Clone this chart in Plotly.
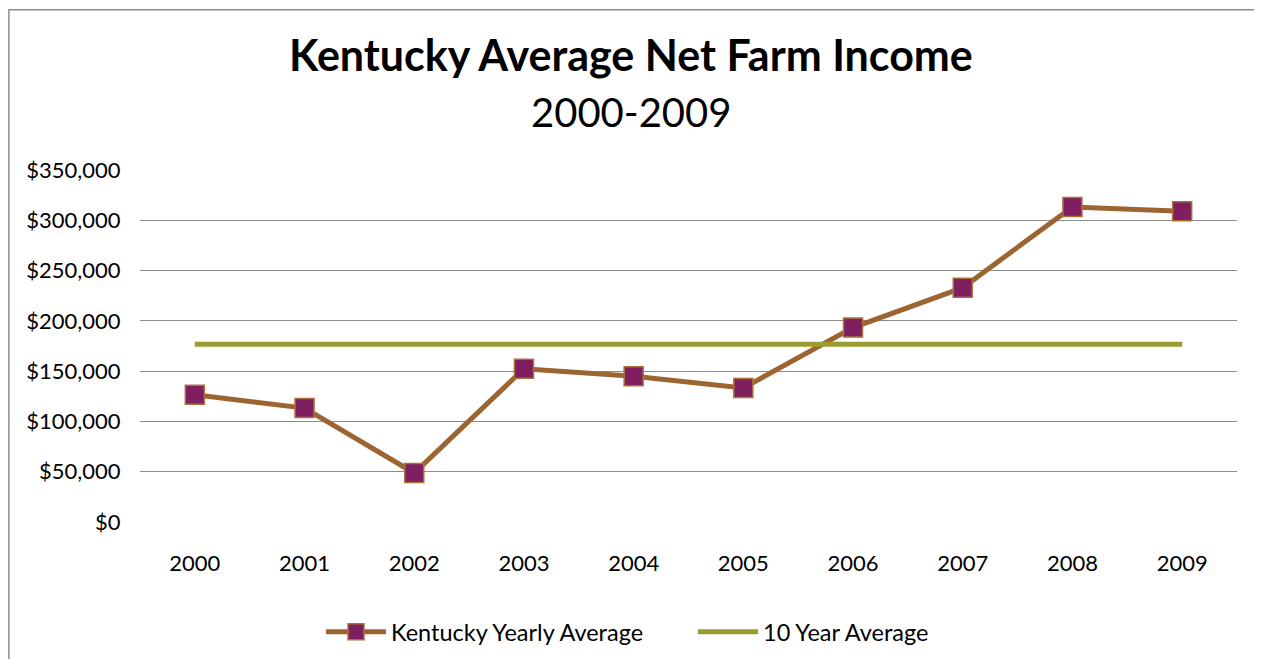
import plotly.graph_objects as go

years = ["2000", "2001", "2002", "2003", "2004", "2005", "2006", "2007", "2008", "2009"]
ky_yearly = [126500, 113300, 48700, 152400, 145000, 133300, 193300, 233000, 313300, 309000]
ten_year_avg = [176700] * 10
y_ticks = [0, 50000, 100000, 150000, 200000, 250000, 300000, 350000]
y_tick_labels = ["$0", "$50,000", "$100,000", "$150,000", "$200,000", "$250,000", "$300,000", "$350,000"]

FONT = "Lato"

fig = go.Figure()
fig.add_trace(go.Scatter(
    x=years, y=ky_yearly, mode="lines+markers", name="Kentucky Yearly Average",
    line=dict(color="#9C6430", width=5),
    marker=dict(symbol="square", size=19, color="#7F1F5F", line=dict(color="#A8713C", width=1.5)),
))
fig.add_trace(go.Scatter(
    x=years, y=ten_year_avg, mode="lines", name="10 Year Average",
    line=dict(color="#9A9C32", width=5),
))

fig.update_layout(
    width=1262, height=659,
    margin=dict(l=132, r=33, t=162, b=145, autoexpand=False),
    paper_bgcolor="white", plot_bgcolor="white",
    font=dict(family=FONT, size=22, color="black"),
    showlegend=True,
    legend=dict(orientation="h", x=0.165, xanchor="left", y=-0.25, yanchor="top",
                font=dict(size=23.5), itemwidth=60, entrywidth=297, tracegroupgap=0),
    xaxis=dict(type="category", range=[-0.5, 9.5], showgrid=False, showline=False, zeroline=False,
               automargin=False,
               ticks="outside", ticklen=22, tickcolor="rgba(0,0,0,0)",
               tickfont=dict(size=22)),
    yaxis=dict(range=[0, 350000], tickvals=y_ticks, ticktext=y_tick_labels,
               automargin=False,
               showgrid=True, gridcolor="#8C8C8C", gridwidth=1, zeroline=False,
               showline=False, ticks="outside", ticklen=14, tickcolor="rgba(0,0,0,0)",
               tickfont=dict(size=22)),
    annotations=[
        dict(text="<b>Kentucky Average Net Farm Income</b>", xref="paper", yref="paper",
             x=0.4475, y=1.327, xanchor="center", yanchor="middle", showarrow=False,
             font=dict(family=FONT, size=43, color="black")),
        dict(text="2000-2009", xref="paper", yref="paper",
             x=0.4475, y=1.165, xanchor="center", yanchor="middle", showarrow=False,
             font=dict(family=FONT, size=40, color="black")),
    ],
    shapes=[
        dict(type="rect", xref="paper", yref="paper", x0=-0.1195, x1=1.0182, y0=-0.6, y1=1.455,
             line=dict(color="#8C8C8C", width=1.5), fillcolor="rgba(0,0,0,0)", layer="below"),
    ],
)

fig.write_html("out.html")
